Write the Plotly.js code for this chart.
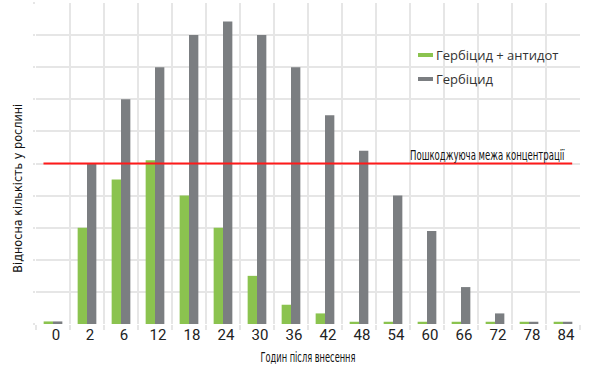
<!DOCTYPE html>
<html>
<head>
<meta charset="utf-8">
<script src="https://cdn.plot.ly/plotly-3.0.1.min.js"></script>
<style>
html,body{margin:0;padding:0;background:#fff;}
#chart{width:590px;height:373px;}
</style>
</head>
<body>
<div id="chart"></div>
<script>
// Categories: hours after application
const hours = ['0','2','6','12','18','24','30','36','42','48','54','60','66','72','78','84'];
// Relative amount in the plant
const herbicideAntidote = [0.08,3.0,4.5,5.1,4.0,3.0,1.5,0.6,0.33,0.07,0.07,0.07,0.07,0.07,0.07,0.07];
const herbicide = [0.08,5.0,7.0,8.0,9.0,9.42,9.0,8.0,6.5,5.4,4.0,2.9,1.15,0.33,0.07,0.07];
const seriesNames = ['Гербіцид + антидот','Гербіцид'];
const thresholdValue = 5;
const thresholdLabel = 'Пошкоджуюча межа концентрації';
const xTitle = 'Годин після внесення';
const yTitle = 'Відносна кількість у рослині';

const green = '#8bc34f';
const grey = '#7b7e81';
const narrow = '"DejaVu Sans Condensed", "DejaVu Sans", sans-serif';

const traces = [
  {type:'bar', x:hours, y:herbicideAntidote, name:seriesNames[0], marker:{color:green}, showlegend:false, hoverinfo:'skip'},
  {type:'bar', x:hours, y:herbicide, name:seriesNames[1], marker:{color:grey}, showlegend:false, hoverinfo:'skip'}
];

const layout = {
  width:590, height:373,
  margin:{l:36, r:10, t:3, b:49},
  paper_bgcolor:'#ffffff', plot_bgcolor:'#ffffff',
  barmode:'group', bargap:0.45, bargroupgap:0,
  showlegend:false,
  xaxis:{
    type:'category', tickson:'boundaries', showgrid:true, gridcolor:'#e6e6e6', gridwidth:2,
    ticks:'outside', ticklen:5, tickcolor:'#e6e6e6', tickwidth:2, ticklabelshift:3,
    tickfont:{family:'Roboto, sans-serif', size:15, color:'#222'},
    zeroline:false, showline:false, range:[-0.5,15.5],
    title:{text:xTitle, font:{family:narrow, size:14, color:'#111'}, standoff:9}
  },
  yaxis:{
    range:[0,10], dtick:1, showgrid:true, gridcolor:'#e6e6e6', gridwidth:2,
    showticklabels:false, zeroline:false, ticks:'outside', ticklen:2, tickcolor:'#e6e6e6', tickwidth:2
  },
  shapes:[
    {type:'line', xref:'x', yref:'y', x0:-0.28, x1:15.27, y0:thresholdValue, y1:thresholdValue,
     line:{color:'#ff1a1a', width:2}},
    {type:'rect', xref:'paper', yref:'paper', x0:(418-36)/544, x1:(433-36)/544,
     y0:(324-57)/321, y1:(324-53)/321, fillcolor:green, line:{width:0}},
    {type:'rect', xref:'paper', yref:'paper', x0:(418-36)/544, x1:(433-36)/544,
     y0:(324-81)/321, y1:(324-77)/321, fillcolor:grey, line:{width:0}}
  ],
  annotations:[
    {xref:'paper', yref:'y', x:(487.5-36)/544, y:thresholdValue, xanchor:'center', yanchor:'bottom', yshift:-1,
     text:thresholdLabel, showarrow:false, font:{family:narrow, size:14, color:'#111'}},
    {xref:'paper', yref:'paper', x:(434-36)/544, y:(324-55)/321, xanchor:'left', yanchor:'middle',
     text:seriesNames[0], showarrow:false, font:{family:'"Open Sans", sans-serif', size:13, color:'#333'}},
    {xref:'paper', yref:'paper', x:(434-36)/544, y:(324-79)/321, xanchor:'left', yanchor:'middle',
     text:seriesNames[1], showarrow:false, font:{family:'"Open Sans", sans-serif', size:13, color:'#333'}},
    {xref:'paper', yref:'paper', x:(18-36)/544, y:(324-188)/321, xanchor:'center', yanchor:'middle',
     textangle:-90, text:yTitle, showarrow:false, font:{family:narrow, size:13, color:'#111'}}
  ]
};

// Horizontally (or vertically) compress a group around a centre so that its text has a target length
function compress(group, textEl, target, horizontal){
  if(!group || !textEl) return;
  const w = textEl.getBBox().width;
  if(!w) return;
  const s = target / w;
  const r = group.getBoundingClientRect();
  const host = document.getElementById('chart').getBoundingClientRect();
  const prev = group.getAttribute('transform') || '';
  if(horizontal){
    const cx = r.left - host.left + r.width / 2;
    group.setAttribute('transform', 'translate(' + cx + ',0) scale(' + s + ',1) translate(' + (-cx) + ',0) ' + prev);
  } else {
    const cy = r.top - host.top + r.height / 2;
    group.setAttribute('transform', 'translate(0,' + cy + ') scale(1,' + s + ') translate(0,' + (-cy) + ') ' + prev);
  }
}

Plotly.newPlot('chart', traces, layout, {staticPlot:true, displayModeBar:false}).then(function(gd){
  gd.querySelectorAll('.annotation').forEach(function(g){
    const t = g.querySelector('.annotation-text');
    if(!t) return;
    if(t.textContent === thresholdLabel) compress(g, t, 155, true);
    if(t.textContent === yTitle) compress(g, t, 169, false);
  });
  const xt = gd.querySelector('.g-xtitle');
  if(xt) compress(xt, xt.querySelector('text'), 95, true);
});
</script>
</body>
</html>
